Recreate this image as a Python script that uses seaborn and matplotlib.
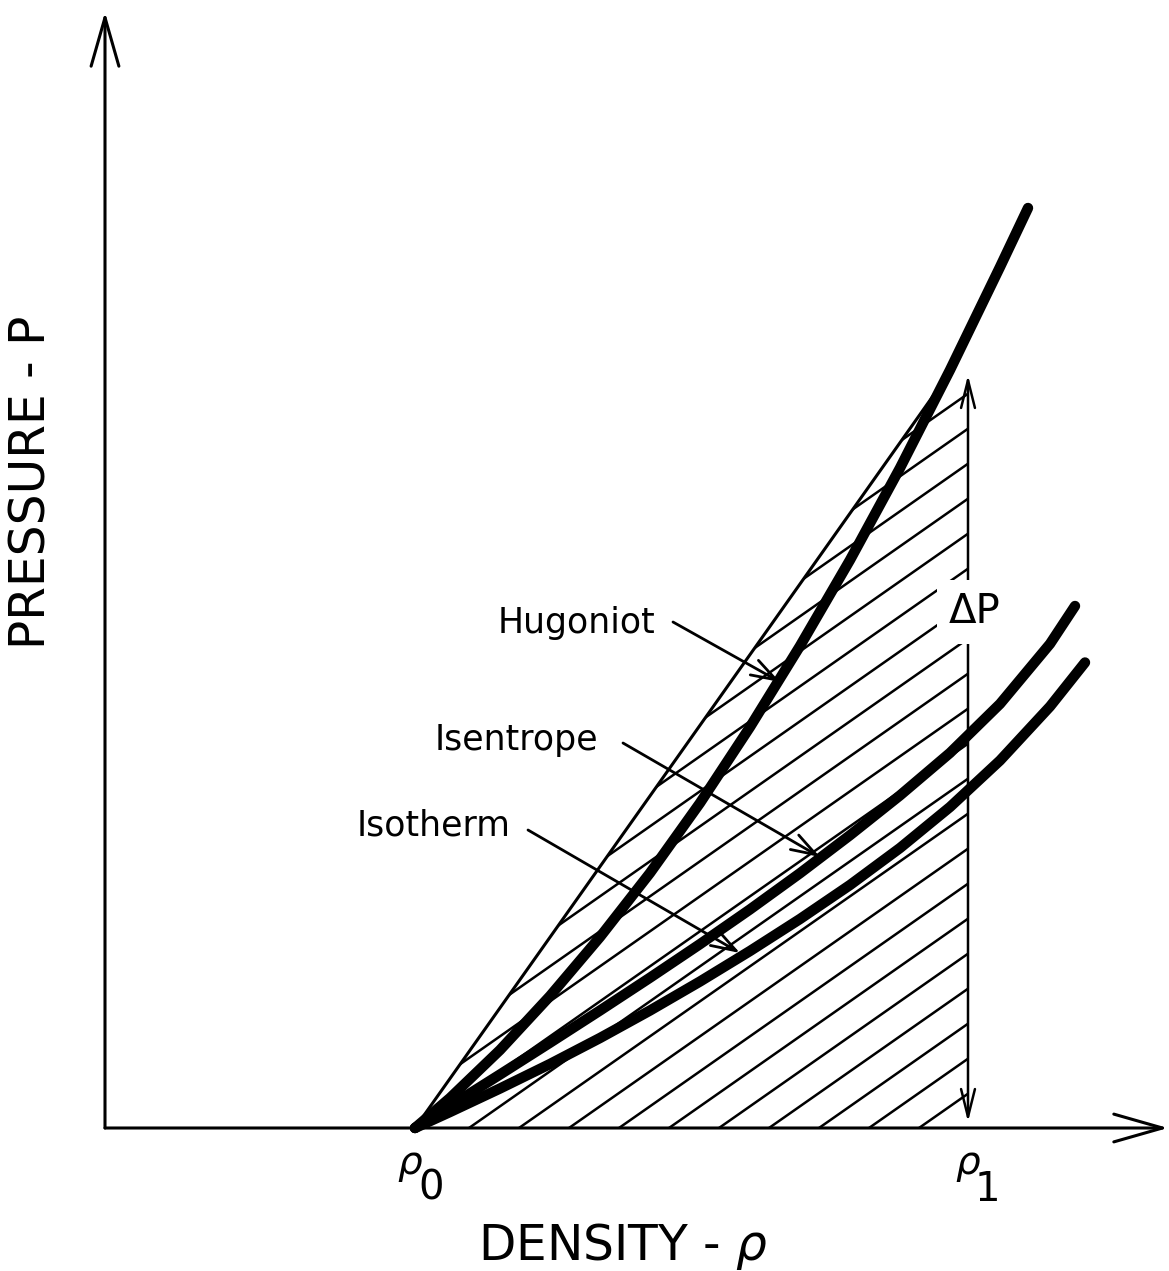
import numpy as np
import pandas as pd
import matplotlib
matplotlib.use("Agg")
import matplotlib.pyplot as plt
import seaborn as sns
from matplotlib.patches import Polygon
from matplotlib.collections import LineCollection

# ---- data (arbitrary schematic units) ----
rho0 = 31.0
rho1 = 86.3

hug_rho = [31.0, 34.5, 39.5, 44.5, 49.5, 54.5, 59.5, 64.5, 69.5, 74.5, 79.5, 84.5, 89.5, 92.3]
hug_p = [0.0, 3.0, 7.8, 13.2, 19.1, 25.5, 32.5, 40.1, 48.2, 56.8, 66.0, 75.8, 86.1, 92.0]

isen_rho = [31.0, 34.5, 39.5, 44.5, 49.5, 54.5, 59.5, 64.5, 69.5, 74.5, 79.5, 84.5, 89.5, 94.5, 97.0]
isen_p = [0.0, 2.2, 5.35, 8.53, 11.75, 15.03, 18.39, 21.86, 25.48, 29.28, 33.26, 37.51, 42.41, 48.41, 52.2]

isot_rho = [31.0, 34.5, 39.5, 44.5, 49.5, 54.5, 59.5, 64.5, 69.5, 74.5, 79.5, 84.5, 89.5, 94.5, 98.0]
isot_p = [0.0, 1.6, 3.95, 6.4, 9.0, 11.75, 14.65, 17.7, 20.9, 24.3, 28.0, 32.1, 36.75, 42.15, 46.55]

# Rayleigh line end (on the Hugoniot) and top of the ΔP arrow
ray_end_rho, ray_end_p = 84.5, 75.6
dp_top = 75.3

labels = ["Hugoniot", "Isentrope", "Isotherm"]
label_pos = [(39.3, 49.5), (33.0, 37.8), (25.2, 29.3)]
arrow_start = [(56.8, 50.6), (51.8, 38.5), (42.3, 29.8)]
arrow_end = [(67.5, 44.6), (71.5, 27.1), (63.5, 17.5)]

hatch_spacing = 5.0
hatch_slope = 0.70
hatch_ref = 36.4

# ---- figure ----
sns.set_theme(style="white")
plt.rcParams["font.family"] = ["DejaVu Sans"]
plt.rcParams["mathtext.fontset"] = "dejavusans"

fig = plt.figure(figsize=(11.69, 12.71), dpi=100)
ax = fig.add_axes([0, 0, 1, 1])
ax.set_xlim(-10.5, 106.4)
ax.set_ylim(-14.3, 112.8)
ax.axis("off")

df = pd.concat([
    pd.DataFrame({"rho": hug_rho, "p": hug_p, "curve": "Hugoniot"}),
    pd.DataFrame({"rho": isen_rho, "p": isen_p, "curve": "Isentrope"}),
    pd.DataFrame({"rho": isot_rho, "p": isot_p, "curve": "Isotherm"}),
])
sns.lineplot(data=df, x="rho", y="p", hue="curve", palette=["black"] * 3,
             linewidth=7.5, legend=False, sort=False, estimator=None, ax=ax,
             solid_capstyle="round", solid_joinstyle="round", zorder=5)
ax.set_xlabel("")
ax.set_ylabel("")

# Rayleigh line
ax.plot([rho0, ray_end_rho], [0, ray_end_p], color="black", lw=2.2, zorder=4)

# hatched region
poly = Polygon([(rho0, 0), (ray_end_rho, ray_end_p), (rho1, dp_top), (rho1, 0)],
               closed=True, facecolor="none", edgecolor="none")
ax.add_patch(poly)
segs = []
for k in range(-14, 12):
    c = hatch_ref + k * hatch_spacing
    x0, x1 = c - 60, c + 120
    segs.append([(x0, hatch_slope * (x0 - c)), (x1, hatch_slope * (x1 - c))])
lc = LineCollection(segs, colors="black", linewidths=1.8, zorder=3)
ax.add_collection(lc)
lc.set_clip_path(poly)

# axes with open arrowheads
for tip in [(0, 111.6), (106.3, 0)]:
    ax.annotate("", xy=tip, xytext=(0, 0),
                arrowprops=dict(arrowstyle="->,head_length=0.35,head_width=0.1",
                                lw=2.2, color="black", shrinkA=0, shrinkB=0,
                                mutation_scale=100), zorder=4)

# ΔP double arrow
ax.annotate("", xy=(rho1, dp_top), xytext=(rho1, 0.6),
            arrowprops=dict(arrowstyle="<->,head_length=0.2,head_width=0.05",
                            lw=1.8, color="black", shrinkA=0, shrinkB=0,
                            mutation_scale=100), zorder=4)
ax.text(87.0, 51.6, "ΔP", fontsize=29, ha="center", va="center", color="black",
        zorder=8, bbox=dict(boxstyle="square,pad=0.3", fc="white", ec="none"))

# curve labels with arrows
for lab, (tx, ty), (sx, sy), (ex, ey) in zip(labels, label_pos, arrow_start, arrow_end):
    ax.text(tx, ty, lab, fontsize=25, ha="left", va="baseline", color="black", zorder=8)
    ax.annotate("", xy=(ex, ey), xytext=(sx, sy),
                arrowprops=dict(arrowstyle="->,head_length=0.6,head_width=0.2",
                                lw=2.0, color="black", shrinkA=0, shrinkB=0,
                                mutation_scale=30), zorder=7)

# density markers
ax.text(30.5, -3.5, "ρ", fontsize=28, style="italic", ha="center", va="center", color="black")
ax.text(32.6, -6.0, "0", fontsize=29, ha="center", va="center", color="black")
ax.text(86.3, -3.5, "ρ", fontsize=28, style="italic", ha="center", va="center", color="black")
ax.text(88.2, -6.2, "1", fontsize=29, ha="center", va="center", color="black")

# axis titles
ax.text(51.8, -11.8, r"DENSITY - $\rho$", fontsize=35, ha="center", va="center", color="black")
ax.text(-7.3, 64.6, "PRESSURE - P", fontsize=35, ha="center", va="center",
        rotation=90, color="black")

fig.savefig("out.png", dpi=100, facecolor="white")
